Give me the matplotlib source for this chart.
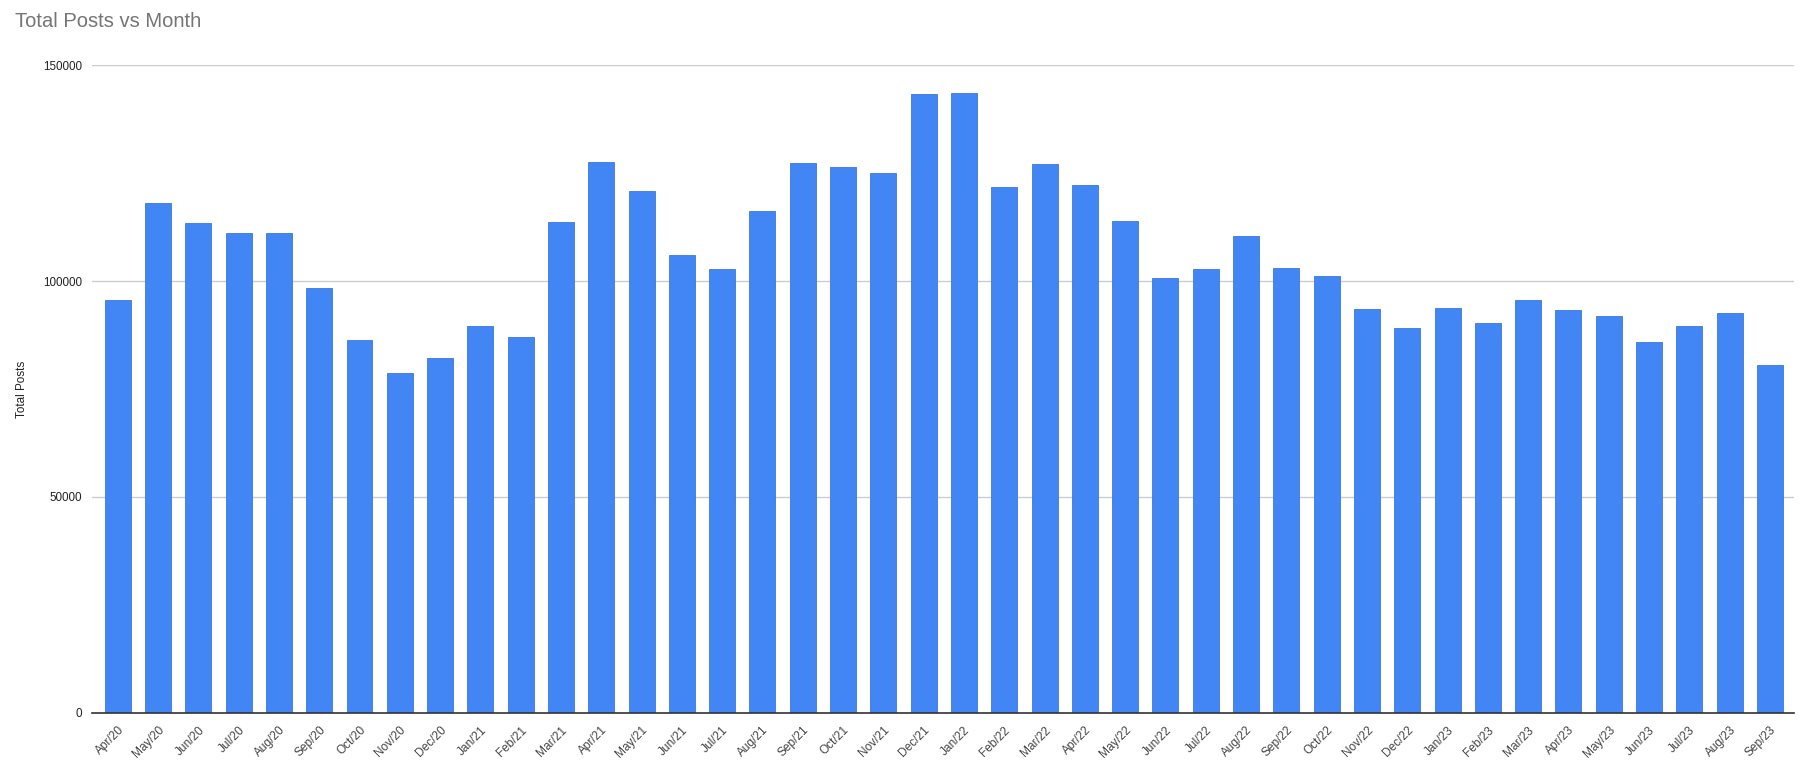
import matplotlib
matplotlib.use("Agg")
import matplotlib.pyplot as plt
import numpy as np

plt.rcParams['font.family'] = ['Liberation Sans', 'DejaVu Sans']

months = ['Apr/20', 'May/20', 'Jun/20', 'Jul/20', 'Aug/20', 'Sep/20', 'Oct/20', 'Nov/20', 'Dec/20',
          'Jan/21', 'Feb/21', 'Mar/21', 'Apr/21', 'May/21', 'Jun/21', 'Jul/21', 'Aug/21', 'Sep/21',
          'Oct/21', 'Nov/21', 'Dec/21', 'Jan/22', 'Feb/22', 'Mar/22', 'Apr/22', 'May/22', 'Jun/22',
          'Jul/22', 'Aug/22', 'Sep/22', 'Oct/22', 'Nov/22', 'Dec/22', 'Jan/23', 'Feb/23', 'Mar/23',
          'Apr/23', 'May/23', 'Jun/23', 'Jul/23', 'Aug/23', 'Sep/23']

total_posts = [95600, 118000, 113400, 111050, 111050, 98300, 86250, 78800, 82100,
               89500, 86950, 113600, 127500, 120800, 105950, 102700, 116150, 127300,
               126350, 124950, 143300, 143500, 121700, 127050, 122200, 113850, 100600,
               102700, 110350, 102950, 101100, 93450, 89050, 93650, 90200, 95500,
               93200, 91800, 85800, 89700, 92500, 80450]

yticks = [0, 50000, 100000, 150000]

fig = plt.figure(figsize=(18.06, 7.65), dpi=100)
ax = fig.add_axes([0.0509, 0.068, 0.9425, 0.847])

x = np.arange(len(months))
ax.bar(x, total_posts, width=0.645, color='#4285F4', edgecolor='#3b78e0', linewidth=0.6, zorder=3)

ax.set_xlim(-0.64, len(months) - 1 + 0.6)
ax.set_ylim(0, 150000)
ax.set_yticks(yticks)
ax.set_yticklabels([str(v) for v in yticks], fontsize=8.4, color='#222222')
ax.grid(axis='y', color='#cccccc', linewidth=1, zorder=0)
ax.tick_params(axis='y', length=0, pad=7)
ax.tick_params(axis='x', length=0, pad=8)

ax.set_xticks(x)
ax.set_xticklabels(months, rotation=45, ha='right', rotation_mode='anchor',
                   fontsize=8.6, color='#444444')

for s in ['top', 'right', 'left']:
    ax.spines[s].set_visible(False)
ax.spines['bottom'].set_color('#333333')
ax.spines['bottom'].set_linewidth(1.2)
ax.spines['bottom'].set_zorder(4)

ax.set_ylabel('Total Posts', fontsize=8.4, color='#222222')
ax.yaxis.set_label_coords(-0.0376, 0.5)

fig.text(0.0083, 0.9725, 'Total Posts vs Month', fontsize=14.5, color='#757575', va='center', ha='left')

fig.savefig('out.png', dpi=100, facecolor='white')
